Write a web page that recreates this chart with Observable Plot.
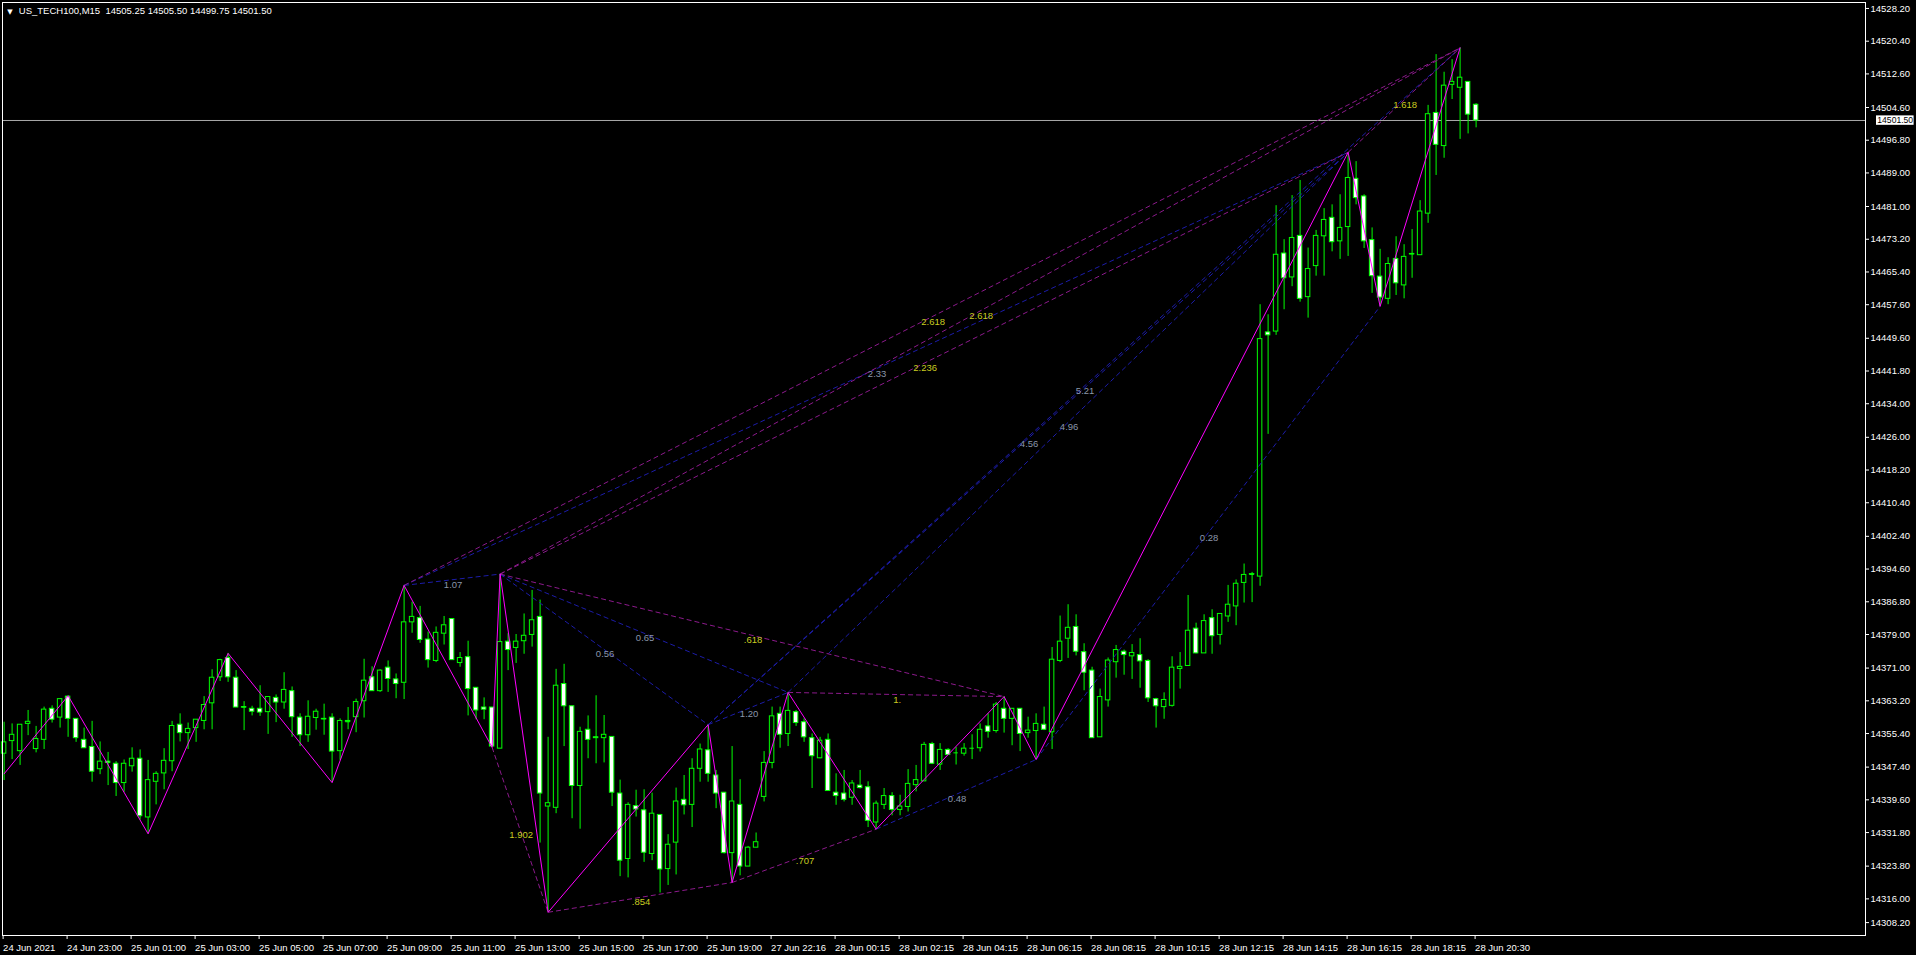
<!DOCTYPE html>
<html><head><meta charset="utf-8">
<script src="https://cdn.jsdelivr.net/npm/d3@7"></script>
<script src="https://cdn.jsdelivr.net/npm/@observablehq/plot@0.6"></script>
<style>
html,body{margin:0;padding:0;background:#000;overflow:hidden;}
svg{display:block;}
svg text{white-space:pre;}
</style></head><body><div id="chart"></div>
<script>
const symbolTitle = "US_TECH100,M15  14505.25 14505.50 14499.75 14501.50";
const lastPrice = 14501.50;

const opens = [14350.6,14353.6,14351.2,14357.7,14351.7,14353.9,14361.3,14359.2,14364.2,14358.9,
14353.9,14352.2,14346.9,14348.7,14348.2,14343.6,14347.6,14349.4,14335.4,14343.9,
14345.9,14348.8,14357.5,14355.5,14356.7,14358.4,14362.6,14368.8,14373.4,14368.7,
14361.7,14361.3,14361.3,14360.5,14363.9,14362.8,14365.5,14359.2,14355.0,14359.1,
14358.9,14359.2,14351.2,14358.2,14359.3,14363.1,14368.8,14365.5,14371.1,14368.3,
14367.5,14381.9,14382.9,14377.8,14372.7,14379.2,14382.7,14372.2,14373.6,14366.3,
14361.6,14361.6,14351.8,14377.3,14375.8,14377.4,14378.9,14383.2,14338.0,14337.7,
14367.2,14361.9,14342.9,14356.3,14354.5,14354.3,14354.6,14341.1,14325.5,14338.1,
14337.1,14326.7,14336.0,14323.1,14329.4,14339.6,14338.4,14347.0,14351.4,14345.4,
14341.3,14326.9,14338.4,14323.7,14328.2,14340.3,14348.4,14360.1,14355.3,14360.5,
14358.1,14354.3,14349.5,14353.9,14341.3,14341.1,14340.1,14343.0,14342.6,14334.2,
14338.4,14340.5,14337.2,14337.9,14343.1,14344.0,14352.9,14348.0,14351.5,14350.8,
14350.6,14351.9,14351.9,14357.1,14356.0,14361.3,14358.9,14361.3,14355.5,14356.0,
14357.5,14355.7,14372.7,14378.0,14380.8,14374.8,14370.4,14354.5,14363.3,14372.4,
14374.9,14373.8,14374.1,14372.7,14363.6,14361.7,14362.0,14370.8,14371.5,14380.4,
14374.5,14382.9,14378.9,14383.3,14385.7,14391.3,14393.3,14392.8,14451.0,14451.2,
14469.8,14464.1,14474.0,14459.4,14466.8,14473.9,14478.3,14472.7,14476.1,14487.6,
14483.4,14473.0,14464.3,14459.0,14468.5,14462.2,14469.7,14469.4,14479.3,14503.3,
14495.4,14510.0,14509.3,14510.7,14505.25];

const highs = [14358.1,14357.7,14357.5,14360.9,14357.1,14361.7,14362.0,14363.6,14364.4,14358.9,
14356.7,14358.3,14353.4,14350.9,14348.7,14349.1,14352.0,14351.5,14349.0,14346.3,
14351.8,14358.3,14360.1,14357.9,14358.7,14364.2,14370.6,14373.1,14374.5,14370.4,
14363.0,14361.9,14366.8,14364.1,14364.6,14369.9,14366.5,14360.1,14363.2,14361.2,
14362.4,14360.1,14358.9,14361.6,14363.6,14373.1,14371.3,14370.6,14372.7,14369.6,
14390.7,14386.7,14385.7,14379.6,14380.8,14383.3,14382.7,14374.7,14377.4,14366.3,
14363.9,14361.6,14393.4,14379.2,14379.0,14383.9,14389.5,14387.2,14354.5,14370.7,
14371.9,14361.9,14356.9,14359.6,14364.4,14359.7,14354.6,14344.3,14338.9,14341.9,
14342.0,14341.2,14336.0,14331.3,14342.4,14345.4,14349.4,14352.9,14357.5,14346.6,
14341.3,14352.3,14344.4,14328.5,14331.7,14351.1,14361.7,14361.7,14365.2,14360.9,
14358.9,14355.3,14354.5,14355.3,14345.8,14346.6,14344.2,14346.6,14343.9,14339.3,
14342.3,14341.3,14340.7,14346.8,14347.8,14353.3,14353.3,14353.0,14351.8,14352.1,
14353.0,14355.1,14357.7,14360.1,14362.8,14364.2,14361.3,14361.3,14359.3,14360.1,
14361.7,14375.9,14383.4,14386.1,14383.7,14376.8,14371.2,14366.0,14373.4,14376.4,
14375.3,14376.6,14378.0,14373.0,14363.8,14365.1,14373.7,14374.7,14388.3,14381.7,
14383.7,14384.9,14383.9,14390.7,14392.0,14395.8,14393.8,14457.6,14455.2,14481.2,
14473.1,14483.6,14487.2,14471.1,14475.3,14480.5,14481.4,14483.8,14493.9,14491.7,
14483.8,14475.9,14470.8,14468.8,14473.8,14471.9,14475.5,14482.4,14505.1,14517.2,
14513.0,14516.0,14518.8,14510.7,14505.5];

const lows = [14344.2,14349.2,14347.8,14354.9,14350.8,14351.6,14357.9,14356.7,14354.5,14353.3,
14351.9,14343.8,14345.6,14343.0,14340.4,14341.4,14346.2,14334.8,14331.5,14338.4,
14342.0,14346.3,14353.4,14351.6,14353.3,14356.3,14356.3,14367.8,14367.6,14361.6,
14356.1,14359.6,14359.5,14355.2,14358.0,14361.2,14354.5,14352.3,14353.3,14356.2,
14355.0,14343.7,14349.0,14356.3,14355.6,14359.1,14365.5,14365.2,14365.2,14363.7,
14363.5,14379.3,14376.9,14371.0,14372.3,14376.5,14372.9,14371.2,14359.6,14358.7,
14358.7,14352.1,14351.8,14370.4,14372.1,14374.3,14376.0,14329.3,14312.8,14336.3,
14352.3,14335.1,14332.6,14349.4,14348.2,14348.4,14338.0,14321.3,14321.0,14335.5,
14324.7,14325.1,14317.4,14319.2,14321.7,14336.0,14333.0,14343.8,14343.8,14337.5,
14326.7,14319.9,14321.5,14323.7,14328.2,14339.1,14347.0,14351.9,14352.3,14357.1,
14353.3,14342.3,14349.4,14341.7,14338.3,14339.1,14338.3,14342.2,14333.0,14332.6,
14337.3,14335.8,14335.8,14336.7,14341.5,14344.0,14348.0,14346.6,14350.2,14347.9,
14350.0,14349.2,14351.0,14354.3,14355.5,14355.5,14352.5,14351.1,14354.3,14349.2,
14356.1,14351.6,14372.3,14373.3,14373.9,14365.6,14354.3,14354.5,14361.7,14368.6,
14369.3,14368.3,14366.2,14362.8,14356.7,14358.8,14361.7,14366.0,14371.5,14374.4,
14374.5,14374.3,14376.5,14381.9,14381.1,14386.5,14386.6,14390.5,14426.7,14450.3,
14456.4,14461.9,14458.2,14454.4,14464.4,14464.4,14470.2,14468.4,14469.1,14481.4,
14471.0,14460.3,14457.2,14457.6,14459.8,14459.0,14463.9,14469.3,14477.0,14488.4,
14492.5,14506.5,14497.0,14498.3,14499.75];

const closes = [14353.3,14355.1,14357.5,14358.2,14354.1,14361.1,14358.7,14363.6,14358.9,14354.3,
14351.9,14346.3,14348.7,14348.4,14343.6,14348.2,14349.4,14335.7,14344.3,14345.8,
14348.9,14357.2,14355.5,14356.5,14358.7,14362.2,14368.7,14372.9,14368.8,14361.6,
14361.6,14360.6,14360.4,14364.1,14362.8,14365.8,14359.3,14355.0,14359.4,14360.6,
14358.8,14351.1,14358.4,14358.4,14362.9,14368.0,14365.5,14370.4,14368.4,14367.2,
14381.9,14383.2,14377.7,14372.9,14379.4,14381.2,14372.9,14373.4,14366.0,14360.9,
14361.1,14352.3,14377.2,14375.3,14377.3,14378.7,14382.4,14341.1,14338.8,14366.8,
14361.9,14342.9,14355.8,14353.9,14354.3,14355.1,14341.3,14325.1,14338.4,14337.3,
14327.0,14336.3,14323.0,14328.9,14339.2,14338.3,14347.0,14351.6,14345.8,14341.1,
14326.9,14339.2,14323.7,14328.2,14329.5,14348.4,14359.5,14355.1,14360.8,14357.9,
14354.5,14350.0,14353.7,14341.7,14340.5,14339.6,14343.5,14342.4,14334.6,14338.7,
14340.5,14337.2,14338.0,14343.4,14344.3,14352.7,14348.2,14351.5,14350.3,14350.8,
14351.8,14351.9,14356.3,14355.8,14362.3,14358.9,14361.3,14355.3,14356.1,14357.7,
14356.3,14373.0,14377.3,14380.6,14374.9,14369.9,14354.3,14364.1,14372.8,14375.3,
14374.1,14374.6,14372.6,14363.8,14361.9,14363.4,14371.1,14371.3,14379.9,14374.5,
14382.2,14378.6,14383.9,14386.1,14391.1,14393.2,14393.4,14449.4,14450.3,14469.5,
14463.9,14473.5,14459.0,14466.1,14474.0,14477.8,14472.5,14475.9,14487.8,14483.0,
14472.7,14464.4,14459.3,14467.3,14462.7,14469.0,14469.6,14479.8,14503.0,14495.7,
14509.8,14510.7,14511.7,14502.9,14501.5];

const timeTickBars = [0,8,16,24,32,40,48,56,64,72,80,88,96,104,112,120,128,136,144,152,160,168,176,184];
const timeTickLabels = ["24 Jun 2021","24 Jun 23:00","25 Jun 01:00","25 Jun 03:00","25 Jun 05:00","25 Jun 07:00",
"25 Jun 09:00","25 Jun 11:00","25 Jun 13:00","25 Jun 15:00","25 Jun 17:00","25 Jun 19:00","27 Jun 22:16",
"28 Jun 00:15","28 Jun 02:15","28 Jun 04:15","28 Jun 06:15","28 Jun 08:15","28 Jun 10:15","28 Jun 12:15",
"28 Jun 14:15","28 Jun 16:15","28 Jun 18:15","28 Jun 20:30"];

const priceTicks = [14528.20,14520.40,14512.60,14504.60,14496.80,14489.00,14481.00,14473.20,14465.40,14457.60,
14449.60,14441.80,14434.00,14426.00,14418.20,14410.40,14402.40,14394.60,14386.80,14379.00,14371.00,14363.20,
14355.40,14347.40,14339.60,14331.80,14323.80,14316.00];
const bottomPriceTick = [14308.20];

// zigzag swing points: bar index and price
const zigzagBars = [0,8,18,28,41,50,61,62,68,88,91,98,109,125,129,168,172,182];
const zigzagPrices = [14345.8,14364.4,14331.5,14374.5,14343.7,14390.7,14352.1,14393.4,14312.8,14357.5,
14319.9,14365.2,14332.6,14364.2,14349.2,14493.9,14457.2,14518.8];

// ratio lines between swing points (indices into zigzag arrays)
const ratioFrom  = [5,7,7,7,11,6,8,10,15, 5,5,7,7,9,9,9,11,12,14];
const ratioTo    = [17,17,15,13,13,8,10,12,17, 7,15,9,11,11,15,17,15,14,16];
const ratioKind  = ["p","p","p","p","p","p","p","p","p", "b","b","b","b","b","b","b","b","b","b"];
const ratioLabels= ["2.618","2.618","2.236",".618","1.",  "1.902",".854",".707","1.618",
"1.07","2.33","0.56","0.65","1.20","4.56","5.21","4.96","0.48","0.28"];

const bars = d3.range(opens.length).map(i => ({i, o: opens[i], h: highs[i], l: lows[i], c: closes[i]}));
const bull = bars.filter(d => d.c >= d.o);
const bear = bars.filter(d => d.c < d.o);
const doji = bars.filter(d => Math.abs(d.c - d.o) < 0.3);
const zz = zigzagBars.map((b, k) => ({b, p: zigzagPrices[k]}));
const ratios = ratioFrom.map((f, k) => ({
  x1: zigzagBars[f], y1: zigzagPrices[f], x2: zigzagBars[ratioTo[k]], y2: zigzagPrices[ratioTo[k]],
  kind: ratioKind[k], label: ratioLabels[k]
}));
const purple = ratios.filter(d => d.kind === "p");
const blue = ratios.filter(d => d.kind === "b");
const tickLabel = new Map(timeTickBars.map((b, k) => [b, timeTickLabels[k]]));
const HW = 0.28;
const FS = 9.5;

const chart = Plot.plot({
  width: 1916, height: 955,
  marginLeft: 2, marginRight: 51, marginTop: 2, marginBottom: 20,
  style: {background: "#000", color: "#fff", fontFamily: "'Liberation Sans', Arial, sans-serif", fontSize: "9.5px"},
  x: {type: "linear", domain: [-0.2, 232.675], axis: null, label: null},
  y: {type: "linear", domain: [14307.27, 14529.62], axis: null, label: null},
  marks: [
    Plot.ruleY([lastPrice], {stroke: "#a8a8a8"}),
    Plot.ruleX(bars, {x: "i", y1: "l", y2: "h", stroke: "#00ff00"}),
    Plot.rect(bull, {x1: d => d.i - HW, x2: d => d.i + HW, y1: "o", y2: "c", fill: "#000", stroke: "#00ff00"}),
    Plot.rect(bear, {x1: d => d.i - HW, x2: d => d.i + HW, y1: "o", y2: "c", fill: "#fff", stroke: "#00ff00"}),
    Plot.ruleY(doji, {x1: d => d.i - HW, x2: d => d.i + HW, y: "o", stroke: "#00ff00"}),
    Plot.link(blue, {x1: "x1", y1: "y1", x2: "x2", y2: "y2", stroke: "#1c1ca8", strokeDasharray: "5,3"}),
    Plot.link(purple, {x1: "x1", y1: "y1", x2: "x2", y2: "y2", stroke: "#8c1a8c", strokeDasharray: "5,3"}),
    Plot.line(zz, {x: "b", y: "p", stroke: "#ff00ff", strokeWidth: 1}),
    Plot.text(blue, {x: d => (d.x1 + d.x2) / 2, y: d => (d.y1 + d.y2) / 2, text: "label", fill: "#8a96aa", dy: 5, dx: 1, fontSize: FS}),
    Plot.text(purple, {x: d => (d.x1 + d.x2) / 2, y: d => (d.y1 + d.y2) / 2, text: "label", fill: "#c8cc20", dy: 5, dx: 1, fontSize: FS}),
    Plot.frame({stroke: "#fff"}),
    Plot.axisX({ticks: timeTickBars, tickFormat: d => tickLabel.get(d), anchor: "bottom", tickSize: 4, tickPadding: 5,
      textAnchor: "start", dx: -1, fontSize: FS, label: null}),
    Plot.axisY({ticks: priceTicks, tickFormat: d => d.toFixed(2), anchor: "right", tickSize: 3, tickPadding: 2, fontSize: FS, label: null}),
    Plot.axisY({ticks: bottomPriceTick, tickFormat: d => d.toFixed(2), anchor: "right", tickSize: 3, tickPadding: 2, dy: -9, fontSize: FS, label: null}),
    Plot.rect([lastPrice], {x1: () => 234.05, x2: () => 238.75, y1: d => d - 1.15, y2: d => d + 1.1, fill: "#fff"}),
    Plot.text([lastPrice], {x: () => 234.15, y: d => d, text: d => d.toFixed(2), fill: "#000", textAnchor: "start", fontSize: 8.6}),
    Plot.text([symbolTitle], {frameAnchor: "top-left", text: d => d, dx: 16.3, dy: 5, lineAnchor: "top", textAnchor: "start", fill: "#fff", fontSize: FS}),
    Plot.text(["\u25BC"], {frameAnchor: "top-left", text: d => d, dx: 7.5, dy: 6.2, lineAnchor: "top", textAnchor: "middle", fill: "#fff", fontSize: 7, fontFamily: "DejaVu Sans"})
  ]
});
document.getElementById("chart").appendChild(chart);
</script></body></html>
